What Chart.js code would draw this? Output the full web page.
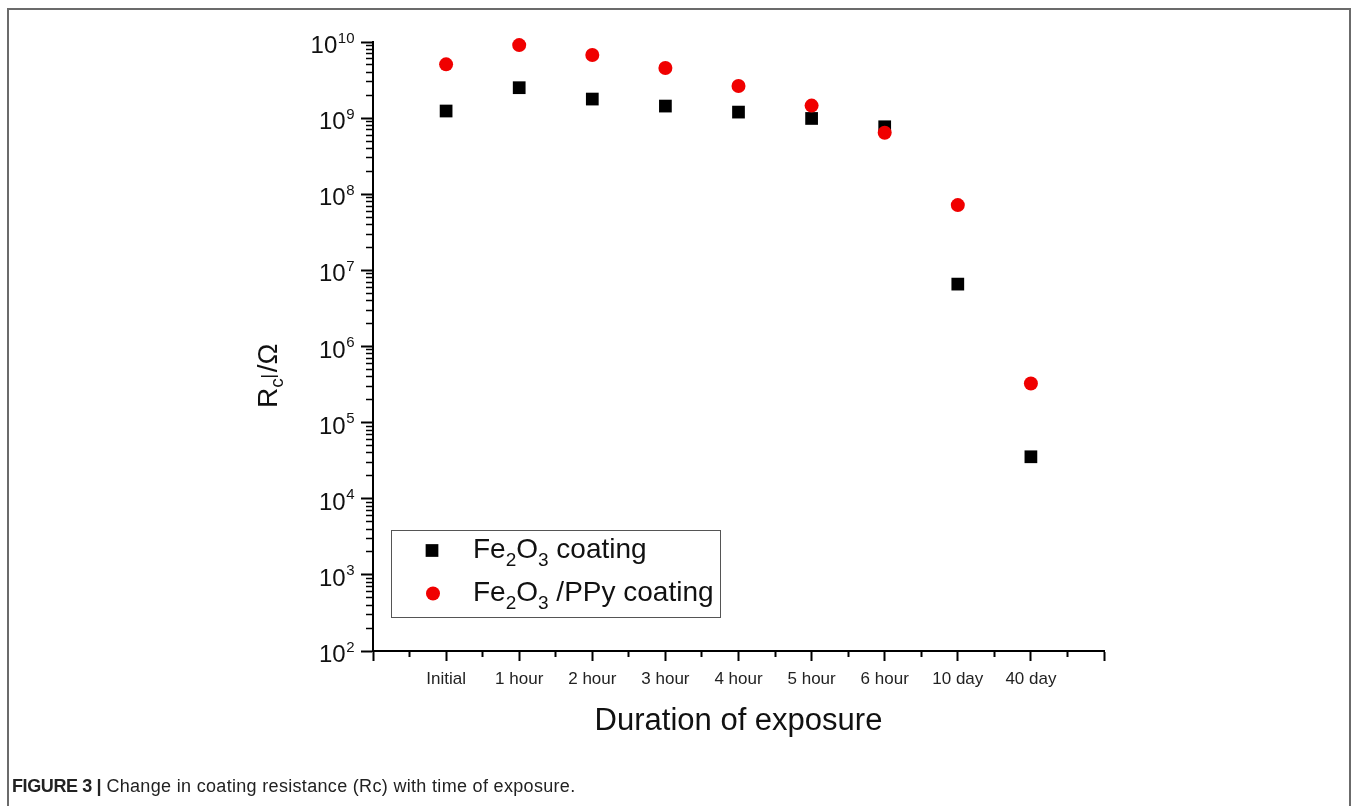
<!DOCTYPE html>
<html><head><meta charset="utf-8">
<script src="https://cdn.jsdelivr.net/npm/chart.js@4/dist/chart.umd.min.js"></script>
<style>
html,body{margin:0;padding:0;background:#fff;width:1358px;height:806px;overflow:hidden;}
#frame{position:absolute;left:7px;top:8px;width:1344px;height:900px;border:2px solid #6b6b6b;box-sizing:border-box;}
#wrap{position:absolute;left:0;top:0;width:1358px;height:806px;}
#caption{position:absolute;left:12px;top:777px;font-family:"Liberation Sans",Arial,sans-serif;font-size:18px;line-height:18px;color:#222;white-space:nowrap;letter-spacing:0.32px;}
#caption b{letter-spacing:-0.4px;}
</style></head>
<body>
<div id="frame"></div>
<div id="wrap"><canvas id="c" width="1358" height="806"></canvas></div>
<div id="caption"><b>FIGURE 3 |</b> Change in coating resistance (Rc) with time of exposure.</div>
<script>
const categories = ['Initial','1 hour','2 hour','3 hour','4 hour','5 hour','6 hour','10 day','40 day'];
const fe2o3 = [1.24e9, 2.51e9, 1.78e9, 1.44e9, 1.20e9, 9.9e8, 7.7e8, 6.6e6, 3.56e4];
const fe2o3PPy = [5.09e9, 9.1e9, 6.75e9, 4.55e9, 2.64e9, 1.46e9, 6.43e8, 7.2e7, 3.27e5];
const yExponents = [2,3,4,5,6,7,8,9,10];
const xMajorTicks = [-1,0,1,2,3,4,5,6,7,8,9];
const xMinorTicks = [-0.5,0.5,1.5,2.5,3.5,4.5,5.5,6.5,7.5,8.5];
const legendLabels = [
  [['Fe',0],['2',1],['O',0],['3',1],[' coating',0]],
  [['Fe',0],['2',1],['O',0],['3',1],[' /PPy coating',0]]
];

const FONT = '"Liberation Sans", Arial, sans-serif';
const W = 1358, H = 806;
const AREA = {left:373, right:1104, top:42, bottom:651};

function toPoints(arr){ return arr.map((v,i)=>({x:i, y:v})); }

const yMinor = [];
for (let e = 2; e < 10; e++) for (let m = 2; m <= 9; m++) yMinor.push(m * Math.pow(10, e));

const customDraw = {
  id: 'customDraw',
  afterDraw(chart){
    const ctx = chart.ctx;
    const ys = chart.scales.y;
    ctx.save();
    ctx.fillStyle = '#111';
    // y tick labels with superscript exponents
    yExponents.forEach(e => {
      const py = ys.getPixelForValue(Math.pow(10, e));
      ctx.font = '24px ' + FONT;
      const wb = ctx.measureText('10').width;
      ctx.font = '15px ' + FONT;
      const we = ctx.measureText(String(e)).width;
      const x0 = 354 - wb - we;
      ctx.textBaseline = 'alphabetic';
      ctx.textAlign = 'left';
      ctx.font = '24px ' + FONT;
      ctx.fillText('10', x0, py + 11);
      ctx.font = '15px ' + FONT;
      ctx.fillText(String(e), x0 + wb + 0.5, py + 0.5);
    });
    // y axis title: R_c | /Ω (rotated)
    ctx.save();
    ctx.translate(277, 408);
    ctx.rotate(-Math.PI / 2);
    ctx.textBaseline = 'alphabetic';
    ctx.textAlign = 'left';
    ctx.font = '28px ' + FONT;
    let x = 0;
    ctx.fillText('R', x, 0);
    x += ctx.measureText('R').width;
    ctx.font = '19px ' + FONT;
    ctx.fillText('c', x, 6);
    x += ctx.measureText('c').width + 2;
    ctx.strokeStyle = '#111';
    ctx.lineWidth = 1.5;
    ctx.beginPath();
    ctx.moveTo(x, 1);
    ctx.lineTo(x, -16);
    ctx.stroke();
    x += 4;
    ctx.font = '28px ' + FONT;
    ctx.fillText('/\u03A9', x, 0);
    ctx.restore();
    // legend
    ctx.strokeStyle = '#555';
    ctx.lineWidth = 1;
    ctx.strokeRect(391.5, 530.5, 329, 87);
    const markers = [
      {style:'rect', r:9, color:'#000', x:432, y:550.5, base:558},
      {style:'circle', r:7, color:'#f00000', x:433, y:593.5, base:601}
    ];
    markers.forEach((m, i) => {
      ctx.fillStyle = m.color;
      Chart.helpers.drawPoint(ctx, {pointStyle:m.style, radius:m.r, borderWidth:0, rotation:0}, m.x, m.y);
      ctx.fillStyle = '#111';
      let tx = 473;
      legendLabels[i].forEach(([t, sub]) => {
        ctx.font = (sub ? '19px ' : '28px ') + FONT;
        ctx.fillText(t, tx, m.base + (sub ? 8 : 0));
        tx += ctx.measureText(t).width;
      });
    });
    ctx.restore();
  }
};

new Chart(document.getElementById('c'), {
  type: 'scatter',
  data: {
    datasets: [
      {label:'Fe2O3 coating', data: toPoints(fe2o3), pointStyle:'rect', pointRadius:9, pointHoverRadius:9,
       backgroundColor:'#000', borderColor:'#000', borderWidth:0, clip:false, order:1},
      {label:'Fe2O3 /PPy coating', data: toPoints(fe2o3PPy), pointStyle:'circle', pointRadius:7, pointHoverRadius:7,
       backgroundColor:'#f00000', borderColor:'#f00000', borderWidth:0, clip:false, order:0}
    ]
  },
  options: {
    responsive: false,
    animation: false,
    events: [],
    layout: {padding: {left:0, top:AREA.top, right:W - AREA.right, bottom:0}},
    plugins: {legend:{display:false}, tooltip:{enabled:false}},
    scales: {
      x: {
        type:'linear', position:'bottom', min:-1, max:9, weight:1,
        afterBuildTicks: s => { s.ticks = xMajorTicks.map(v => ({value:v})); },
        afterFit: s => { s.height = H - AREA.bottom; },
        grid: {drawOnChartArea:false, drawTicks:true, tickLength:10, tickWidth:2, tickColor:'#000'},
        border: {display:true, color:'#000', width:2},
        ticks: {
          autoSkip:false, maxRotation:0, minRotation:0, padding:8, color:'#222',
          font:{family:FONT, size:17},
          callback: v => (Number.isInteger(v) && v >= 0 && v < categories.length) ? categories[v] : ''
        },
        title: {display:true, text:'Duration of exposure', color:'#111',
          font:{family:FONT, size:31}, padding:{top:0, bottom:66}}
      },
      x2: {
        type:'linear', position:'bottom', min:-1, max:9, weight:0,
        afterBuildTicks: s => { s.ticks = xMinorTicks.map(v => ({value:v})); },
        afterFit: s => { s.height = 0; },
        grid: {drawOnChartArea:false, drawTicks:true, tickLength:6, tickWidth:2, tickColor:'#000'},
        border: {display:false},
        ticks: {display:false}
      },
      y: {
        type:'logarithmic', position:'left', min:1e2, max:1e10, weight:1,
        afterBuildTicks: s => { s.ticks = yExponents.map(e => ({value:Math.pow(10, e)})); },
        afterFit: s => { s.width = AREA.left; },
        grid: {drawOnChartArea:false, drawTicks:true, tickLength:12, tickWidth:2, tickColor:'#000'},
        border: {display:true, color:'#000', width:2},
        ticks: {display:false}
      },
      y2: {
        type:'logarithmic', position:'left', min:1e2, max:1e10, weight:0,
        afterBuildTicks: s => { s.ticks = yMinor.map(v => ({value:v})); },
        afterFit: s => { s.width = 0; },
        grid: {drawOnChartArea:false, drawTicks:true, tickLength:7, tickWidth:1.5, tickColor:'#000'},
        border: {display:false},
        ticks: {display:false}
      }
    }
  },
  plugins: [customDraw]
});
</script>
</body></html>
